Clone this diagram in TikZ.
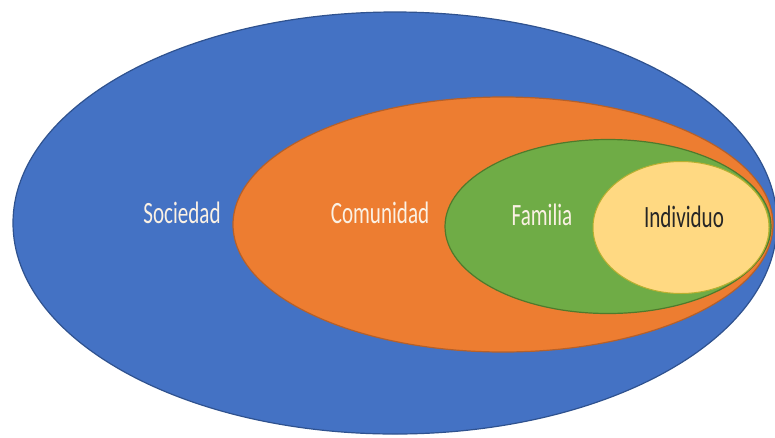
\documentclass[tikz,border=0pt]{standalone}
\usepackage{fontspec}
\setmainfont{Carlito}
\definecolor{sblue}{HTML}{4472C4}
\definecolor{sblueD}{HTML}{2F528F}
\definecolor{sorange}{HTML}{ED7D31}
\definecolor{sorangeD}{HTML}{B5602A}
\definecolor{sgreen}{HTML}{6FAC46}
\definecolor{sgreenD}{HTML}{4F7A2C}
\definecolor{syellow}{HTML}{FFD982}
\definecolor{syellowD}{HTML}{B8B030}
\definecolor{stext}{HTML}{FBF1E4}
\tikzset{
  ring/.style={line width=1.2pt},
  lbl/.style={inner sep=0pt, anchor=base, font=\fontsize{31}{31}\selectfont},
}
\newcommand{\sq}[1]{\scalebox{0.68}[1]{#1}}
\begin{document}
\begin{tikzpicture}[x=1pt,y=-1pt]
\useasboundingbox (0,0) rectangle (775,437);
\fill[white] (0,0) rectangle (775,437);
\begin{scope}
\clip (0,0) rectangle (775,437);
\draw[ring, fill=sblue, draw=sblueD] (395,223) ellipse [x radius=382, y radius=211];
\draw[ring, fill=sorange, draw=sorangeD] (503,224.5) ellipse [x radius=270, y radius=127.5];
\draw[ring, fill=sgreen, draw=sgreenD] (608,226.5) ellipse [x radius=163, y radius=87];
\draw[line width=1pt, fill=syellow, draw=syellowD] (681,227.5) ellipse [x radius=88, y radius=66];
\end{scope}
\node[lbl, text=stext] (soc) at (182,223) {\sq{Sociedad}};
\node[lbl, text=stext] (com) at (380,223) {\sq{Comunidad}};
\node[lbl, text=stext] (fam) at (542,225) {\sq{Familia}};
\node[lbl, text=black!85] (ind) at (684,227) {\sq{Individuo}};
\end{tikzpicture}
\end{document}
